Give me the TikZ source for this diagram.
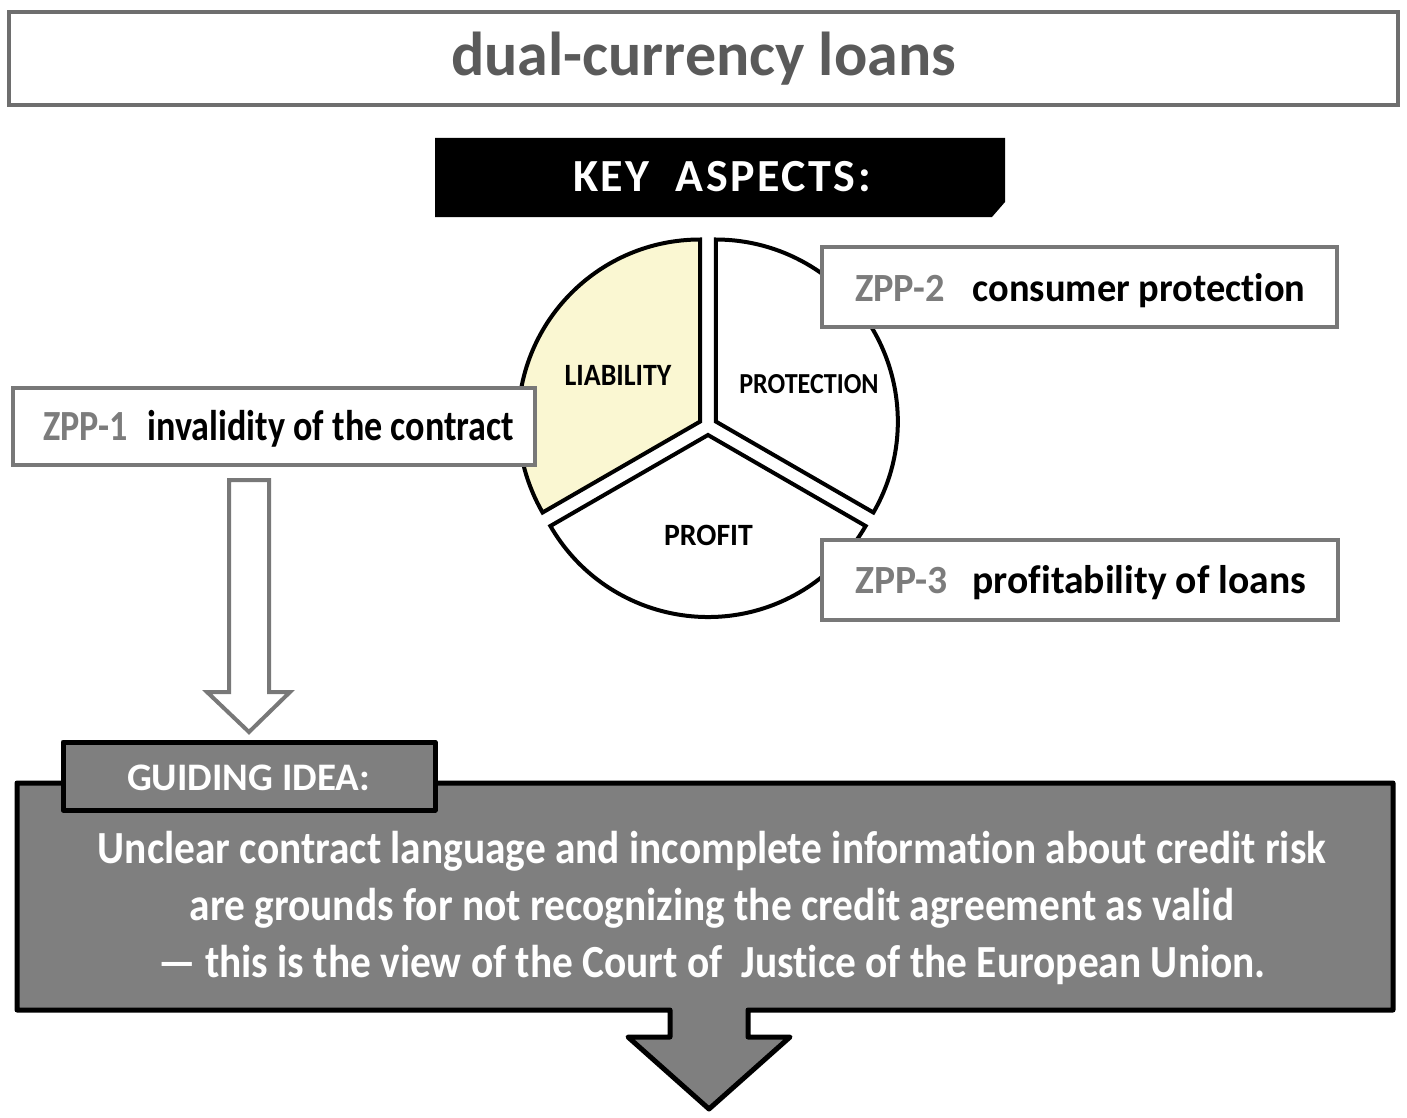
\documentclass[tikz,border=0pt]{standalone}
\usepackage{fontspec}
\setmainfont{Carlito}[Ligatures={NoCommon,TeX}]
\newfontfamily\sqA{Carlito}[FakeStretch=0.84, Ligatures={NoCommon,TeX}]
\newfontfamily\sqB{Carlito}[FakeStretch=0.9, Ligatures={NoCommon,TeX}]
\newfontfamily\sqC{Carlito}[FakeStretch=0.96, Ligatures={NoCommon,TeX}]
\newfontfamily\sqD{Carlito}[FakeStretch=0.99, Ligatures={NoCommon,TeX}]
\newfontfamily\spaced{Carlito}[LetterSpace=5.5, Ligatures={NoCommon,TeX}]
\definecolor{titlegray}{HTML}{6E6E6E}
\definecolor{titletext}{HTML}{5A5A5A}
\definecolor{zppborder}{HTML}{787878}
\definecolor{zpplabel}{HTML}{7C7C7C}
\definecolor{ideafill}{HTML}{7F7F7F}
\definecolor{liab}{HTML}{FAF7D2}
\tikzset{
  boxtitle/.style={draw=titlegray, line width=4.5pt, fill=white, inner sep=0pt},
  zppbox/.style={draw=zppborder, line width=4pt, fill=white, inner sep=0pt},
  piece/.style={draw=black, line width=4pt, line join=miter},
  txt/.style={inner sep=0pt, anchor=base, font=\bfseries},
  ideabox/.style={draw=black, line width=5pt, fill=ideafill, line join=round},
  hollow/.style={draw=zppborder, line width=4pt, fill=white, line join=miter},
}
\begin{document}
\begin{tikzpicture}[x=1pt,y=1pt]
\useasboundingbox (0,0) rectangle (1407,-1118);
\fill[white] (0,0) rectangle (1407,-1118);
% title
\node[boxtitle, minimum width=1389pt, minimum height=93pt] (title) at (703.5,-58.5) {};
\node[txt, text=titletext, font=\bfseries\fontsize{62}{64}\selectfont] (titlet) at (703.5,-76) {dual-currency loans};
% key aspects
\fill[black] (435,-138) -- (1005,-138) -- (1005,-202) -- (992,-217) -- (435,-217) -- cycle;
\node[txt, text=white, font=\spaced\bfseries\fontsize{46}{48}\selectfont] (keyt) at (722,-192) {KEY\ \ ASPECTS:};
% pie
\coordinate (A1) at (700.2,-421.5);
\coordinate (A2) at (715.8,-421.5);
\coordinate (A3) at (708,-435);
\draw[piece, fill=liab] (A1) -- ++(90:182) arc[start angle=90, end angle=210, radius=182] -- cycle;
\draw[piece, fill=white] (A2) -- ++(-30:182) arc[start angle=-30, end angle=90, radius=182] -- cycle;
\draw[piece, fill=white] (A3) -- ++(210:182) arc[start angle=210, end angle=330, radius=182] -- cycle;
\node[txt, font=\sqB\bfseries\fontsize{31}{33}\selectfont] (liabt) at (618,-385) {LIABILITY};
\node[txt, font=\sqB\bfseries\fontsize{29}{31}\selectfont] (prott) at (809,-393) {PROTECTION};
\node[txt, font=\sqC\bfseries\fontsize{31}{33}\selectfont] (proft) at (708.5,-545) {PROFIT};
% ZPP boxes
\node[zppbox, minimum width=522pt, minimum height=77pt] (z1) at (274,-426.5) {};
\node[zppbox, minimum width=515pt, minimum height=80pt] (z2) at (1079.5,-287) {};
\node[zppbox, minimum width=516pt, minimum height=80pt] (z3) at (1080,-580) {};
\node[txt, anchor=base west, font=\sqA\bfseries\fontsize{43}{45}\selectfont] (z1t) at (43,-440) {\textcolor{zpplabel}{ZPP-1}\hspace{20pt}invalidity of the contract};
\node[txt, anchor=base west, font=\sqC\bfseries\fontsize{40}{42}\selectfont] (z2t) at (855,-301) {\textcolor{zpplabel}{ZPP-2}\hspace{28pt}consumer protection};
\node[txt, anchor=base west, font=\sqD\bfseries\fontsize{40}{42}\selectfont] (z3t) at (855,-593) {\textcolor{zpplabel}{ZPP-3}\hspace{25pt}profitability of loans};
% hollow arrow from ZPP-1 down to the guiding idea
\draw[hollow] (229,-480) -- (269,-480) -- (269,-692) -- (290,-692) -- (249,-732) -- (207,-692) -- (229,-692) -- cycle;
% guiding idea box
\draw[ideabox] (17,-783) -- (1393,-783) -- (1393,-1010) -- (748,-1010) -- (748,-1037) -- (790,-1037) -- (709,-1109) -- (628,-1037) -- (670,-1037) -- (670,-1010) -- (17,-1010) -- cycle;
\node[ideabox, minimum width=372pt, minimum height=68pt, inner sep=0pt] (tab) at (249,-776) {};
\node[txt, text=white, font=\bfseries\fontsize{39}{41}\selectfont] (tabt) at (248.5,-790) {GUIDING IDEA:};
\node[txt, anchor=base, text=white, align=center, font=\sqB\bfseries\fontsize{46}{57}\selectfont] (idea) at (712,-977) {Unclear contract language and incomplete information about credit risk\\are grounds for not recognizing the credit agreement as valid\\— this is the view of the Court of\ \ Justice of the European Union.};
\end{tikzpicture}
\end{document}
